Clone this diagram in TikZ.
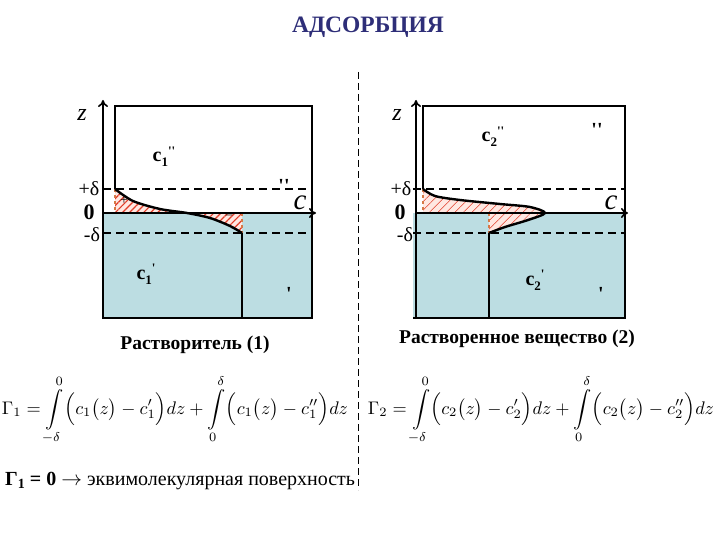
\documentclass[tikz,border=0pt]{standalone}
\usepackage{fontspec}
\setmainfont{Liberation Serif}
\usetikzlibrary{patterns.meta,arrows.meta}
\definecolor{water}{RGB}{188,221,226}
\definecolor{titleblue}{RGB}{46,46,120}
\definecolor{hatchred}{RGB}{225,60,40}
\definecolor{pinkfill}{RGB}{255,232,226}
\definecolor{dotorange}{RGB}{215,120,70}
\newcommand{\sq}{\textquotesingle}
\tikzset{
  boxline/.style={line width=1.4pt},
  dashline/.style={line width=1.4pt, dash pattern=on 8pt off 5pt},
  axisline/.style={line width=2.4pt, -{To[length=7pt,width=10pt,line width=1.6pt]}},
  curveline/.style={line width=2.4pt},
  hatchA/.style={fill=pinkfill, postaction={pattern={Lines[angle=45,distance=5pt,line width=1.2pt]}, pattern color=hatchred}},
  hatchB/.style={fill=pinkfill, postaction={pattern={Lines[angle=45,distance=6pt,line width=0.5pt]}, pattern color=hatchred}},
  markline/.style={line width=2pt, dotorange, dash pattern=on 3pt off 3pt},
  lbl/.style={inner sep=0pt, font=\fontsize{20}{22}\selectfont\bfseries},
  dlbl/.style={inner sep=0pt, font=\fontsize{20}{22}\selectfont},
  zlbl/.style={inner sep=0pt, font=\fontsize{24}{26}\selectfont\itshape},
  clbl/.style={inner sep=0pt, font=\fontsize{29}{30}\selectfont\itshape},
  zerolbl/.style={inner sep=0pt, font=\fontsize{22}{24}\selectfont\bfseries},
  caption/.style={inner sep=0pt, font=\fontsize{19.5}{22}\selectfont\bfseries},
}
\begin{document}
\begin{tikzpicture}[x=1pt,y=-1pt]
\useasboundingbox (0,0) rectangle (720,540);

% title
\node[inner sep=0pt, text=titleblue, font=\fontsize{23.5}{26}\selectfont\bfseries] (title) at (368,27) {АДСОРБЦИЯ};

% separator
\coordinate (sepT) at (358,72);
\coordinate (sepB) at (358,490);
\draw[line width=0.8pt, dash pattern=on 7pt off 4pt] (sepT) -- (sepB);

% ================= LEFT PANEL =================
\fill[water] (103,213) rectangle (312,318);
\path[hatchA] plot[smooth] coordinates {(115,189) (133,201) (160,209) (187,213)} -- (115,213) -- cycle;
\path[hatchA] plot[smooth] coordinates {(187,213) (210,218) (230,226) (242,233)} -- (242,213) -- cycle;
\draw[markline] (115,189) -- (115,213);
\draw[markline] (242,213) -- (242,233);
\draw[boxline] (115,189) -- (115,106) -- (312,106) -- (312,318) -- (103,318);
\draw[boxline] (242,233) -- (242,318);
\draw[dashline] (103,189) -- (312,189);
\draw[dashline] (103,233) -- (312,233);
\coordinate (zA0) at (103,319);
\coordinate (zA1) at (103,100);
\coordinate (cA0) at (103,213);
\coordinate (cA1) at (316,213);
\draw[axisline] (zA0) -- (zA1);
\draw[axisline] (cA0) -- (cA1);
\draw[curveline] plot[smooth] coordinates {(115,189) (133,201) (160,209) (187,213) (210,218) (230,226) (242,233)};
\node[zlbl] (zL) at (82,115) {z};
\node[clbl] (cL) at (300,203) {c};
\node[lbl] (c1pp) at (164,157) {c\raisebox{-5pt}{\fontsize{13}{14}\selectfont 1}\raisebox{6pt}{\fontsize{13}{14}\selectfont\sq\sq}};
\node[lbl] (c1p) at (146,274) {c\raisebox{-5pt}{\fontsize{13}{14}\selectfont 1}\raisebox{7pt}{\fontsize{13}{14}\selectfont\sq}};
\node[lbl] (pp1) at (284,186) {\sq\sq};
\node[lbl] (p1) at (289,294) {\sq};
\node[inner sep=0pt, font=\fontsize{13}{13}\selectfont] (plus1) at (124,201) {+};
\node[inner sep=0pt, font=\fontsize{13}{13}\selectfont] (minus1) at (229,217) {–};
\node[dlbl] (pd1) at (89,189) {+δ};
\node[zerolbl] (z01) at (89,212) {0};
\node[dlbl] (md1) at (92,235) {-δ};
\node[caption] (solv) at (195,345) {Растворитель (1)};

% ================= RIGHT PANEL =================
\fill[water] (413,213) rectangle (625,318);
\path[hatchB] plot[smooth] coordinates {(423,189) (435,196) (460,200) (500,204) (530,207) (545,213)} -- (423,213) -- cycle;
\path[hatchB] plot[smooth] coordinates {(545,213) (528,220) (505,227) (489,233)} -- (489,213) -- cycle;
\draw[markline] (423,189) -- (423,213);
\draw[markline] (489,213) -- (489,233);
\draw[boxline] (423,189) -- (423,106) -- (625,106) -- (625,318) -- (413,318);
\draw[boxline] (489,233) -- (489,318);
\draw[dashline] (413,189) -- (625,189);
\draw[dashline] (413,233) -- (625,233);
\coordinate (zB0) at (416,319);
\coordinate (zB1) at (416,100);
\coordinate (cB0) at (416,213);
\coordinate (cB1) at (628,213);
\draw[axisline] (zB0) -- (zB1);
\draw[axisline] (cB0) -- (cB1);
\draw[curveline] plot[smooth] coordinates {(423,189) (435,196) (460,200) (500,204) (530,207) (545,213) (528,220) (505,227) (489,233)};
\node[zlbl] (zR) at (397,115) {z};
\node[clbl] (cR) at (611,203) {c};
\node[lbl] (c2pp) at (493,137) {c\raisebox{-5pt}{\fontsize{13}{14}\selectfont 2}\raisebox{6pt}{\fontsize{13}{14}\selectfont\sq\sq}};
\node[lbl] (c2p) at (535,280) {c\raisebox{-5pt}{\fontsize{13}{14}\selectfont 2}\raisebox{7pt}{\fontsize{13}{14}\selectfont\sq}};
\node[lbl] (pp2) at (597,130) {\sq\sq};
\node[lbl] (p2) at (601,294) {\sq};
\node[dlbl] (pd2) at (401,189) {+δ};
\node[zerolbl] (z02) at (400,212) {0};
\node[dlbl] (md2) at (405,235) {-δ};
\node[caption] (solute) at (517,339) {Растворенное вещество (2)};

% ================= FORMULAS =================
\node[inner sep=0pt] (g1) at (175,410) {\resizebox{346pt}{!}{$\displaystyle \Gamma_1 = \int\limits_{-\delta}^{0}\Bigl(c_1\bigl(z\bigr) - c'_1\Bigr)dz + \int\limits_{0}^{\delta}\Bigl(c_1\bigl(z\bigr) - c''_1\Bigr)dz$}};
\node[inner sep=0pt] (g2) at (541,410) {\resizebox{346pt}{!}{$\displaystyle \Gamma_2 = \int\limits_{-\delta}^{0}\Bigl(c_2\bigl(z\bigr) - c'_2\Bigr)dz + \int\limits_{0}^{\delta}\Bigl(c_2\bigl(z\bigr) - c''_2\Bigr)dz$}};
\node[inner sep=0pt, anchor=west, font=\fontsize{20}{22}\selectfont] (eq0) at (5,481) {\textbf{Γ\raisebox{-3pt}{\fontsize{14}{15}\selectfont 1} = 0} $\rightarrow$ эквимолекулярная поверхность};
\end{tikzpicture}
\end{document}
